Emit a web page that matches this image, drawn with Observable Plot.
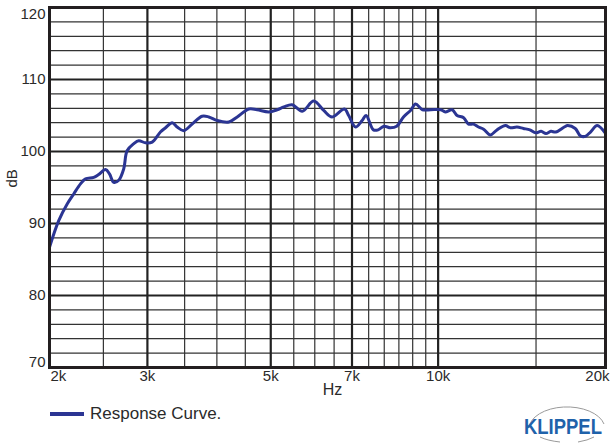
<!DOCTYPE html>
<html>
<head>
<meta charset="utf-8">
<script src="https://cdn.jsdelivr.net/npm/d3@7"></script>
<script src="https://cdn.jsdelivr.net/npm/@observablehq/plot@0.6"></script>
<style>
  html, body { margin: 0; padding: 0; background: #fff; }
  #wrap { position: relative; width: 610px; height: 443px; font-family: "Liberation Sans", Arial, sans-serif; }
  #legend { position: absolute; left: 50px; top: 404px; display: flex; align-items: center; font-size: 17px; color: #2a2a2a; }
  #logo { position: absolute; left: 0; top: 0; }
</style>
</head>
<body>
<div id="wrap">
  <div id="chart"></div>
  <div id="legend"><svg width="34" height="6" style="margin-right:6px"><line x1="0" x2="34" y1="3" y2="3" stroke="#2b3593" stroke-width="4"/></svg><span>Response Curve.</span></div>
  <svg id="logo" width="610" height="443">
    <path d="M 529 428 A 38 22 0 0 1 604 424" fill="none" stroke="#9a9a9a" stroke-width="1"/>
    <path d="M 540 437 A 38 14 0 0 0 560 442" fill="none" stroke="#9a9a9a" stroke-width="1"/>
    <path d="M 578 442 A 38 14 0 0 0 594 437" fill="none" stroke="#9a9a9a" stroke-width="1"/>
    <text transform="translate(524,434) scale(0.84,1)" x="0" y="0" font-family="'Liberation Sans', Arial, sans-serif" font-weight="bold" font-size="22" fill="#1f62aa">KLIPPEL</text>
  </svg>
</div>
<script>
// Response curve (frequency in Hz, level in dB)
const freq = [2000, 2078, 2152, 2211, 2274, 2322, 2402, 2452, 2523, 2564, 2610, 2664, 2720, 2758, 2836, 2894, 2976, 3060, 3166, 3234, 3324, 3394, 3488, 3610, 3762, 3868, 4006, 4204, 4352, 4566, 4724, 4960, 5134, 5280, 5462, 5696, 5974, 6226, 6446, 6784, 6904, 7100, 7300, 7420, 7650, 7800, 7990, 8206, 8424, 8664, 8920, 9108, 9372, 9702, 10108, 10300, 10600, 10818, 11114, 11342, 11578, 11820, 12070, 12410, 12760, 13216, 13490, 13860, 14234, 14622, 14980, 15322, 15630, 15952, 16280, 16860, 17096, 17646, 18016, 18392, 18796, 19324, 20000];
const level = [86.7, 90.4, 92.7, 94.1, 95.5, 96.2, 96.4, 96.8, 97.5, 96.9, 95.7, 96.0, 97.6, 100.1, 101.1, 101.5, 101.2, 101.3, 102.7, 103.3, 104.0, 103.4, 102.9, 103.8, 104.9, 104.8, 104.3, 104.1, 104.8, 105.9, 105.8, 105.5, 105.8, 106.2, 106.5, 105.6, 107.0, 105.7, 104.8, 105.9, 105.0, 103.4, 104.3, 105.0, 103.0, 103.0, 103.5, 103.3, 103.5, 104.8, 105.7, 106.6, 105.8, 105.8, 105.8, 105.5, 105.8, 105.0, 104.7, 103.8, 103.8, 103.4, 103.1, 102.3, 103.0, 103.6, 103.3, 103.4, 103.2, 103.0, 102.6, 102.8, 102.5, 102.8, 102.7, 103.4, 103.6, 103.2, 102.2, 102.1, 102.7, 103.6, 102.5];

// Grid and tick values
const xMajorGrid = [3000, 5000, 7000, 10000];
const xMinorGrid = [2500, 3500, 4000, 4500, 5500, 6000, 6500, 7500, 8000, 8500, 9000, 9500, 15000];
const yMajorGrid = [80, 90, 100, 110];
const yMinorGrid = [72, 74, 76, 78, 82, 84, 86, 88, 92, 94, 96, 98, 102, 104, 106, 108, 112, 114, 116, 118];
const xTicks = [2000, 3000, 5000, 7000, 10000, 20000];
const xTickLabels = ["2k", "3k", "5k", "7k", "10k", "20k"];
const yTicks = [70, 80, 90, 100, 110, 120];
const yTickLabels = ["70", "80", "90", "100", "110", "120"];
const xLabel = "Hz";
const yLabel = "dB";

const data = freq.map((f, i) => ({f, v: level[i]}));
const xt = xTicks.map((v, i) => ({v, t: xTickLabels[i]}));
const yt = yTicks.map((v, i) => ({v, t: yTickLabels[i]}));
const ink = "#2a2a2a";

const chart = Plot.plot({
  width: 610,
  height: 443,
  marginLeft: 49,
  marginRight: 5,
  marginTop: 7,
  marginBottom: 76,
  style: {fontFamily: "'Liberation Sans', Arial, sans-serif", fontSize: "15px", color: ink, background: "white"},
  x: {type: "log", domain: [2000, 20000], axis: null},
  y: {domain: [70, 120], axis: null},
  marks: [
    Plot.ruleX(xMinorGrid, {x: d => d, stroke: "#333", strokeWidth: 1.2}),
    Plot.ruleY(yMinorGrid, {y: d => d, stroke: "#333", strokeWidth: 1.2}),
    Plot.ruleX(xMajorGrid, {x: d => d, stroke: "#222", strokeWidth: 2.2}),
    Plot.ruleY(yMajorGrid, {y: d => d, stroke: "#222", strokeWidth: 2.2}),
    Plot.line(data, {x: "f", y: "v", stroke: "#2b3593", strokeWidth: 3, curve: "catmull-rom"}),
    Plot.frame({stroke: "#231f20", strokeWidth: 3}),
    // x tick labels
    Plot.text(xt.slice(0, 1), {x: "v", text: "t", frameAnchor: "bottom", dy: 13, dx: 1, textAnchor: "start", fill: ink}),
    Plot.text(xt.slice(1, -1), {x: "v", text: "t", frameAnchor: "bottom", dy: 13, fill: ink}),
    Plot.text(xt.slice(-1), {x: "v", text: "t", frameAnchor: "bottom", dy: 13, dx: 4, textAnchor: "end", fill: ink}),
    // y tick labels
    Plot.text(yt.slice(0, 1), {y: "v", text: "t", frameAnchor: "left", dx: -4, dy: -5, textAnchor: "end", fill: ink}),
    Plot.text(yt.slice(1, -1), {y: "v", text: "t", frameAnchor: "left", dx: -4, textAnchor: "end", fill: ink}),
    Plot.text(yt.slice(-1), {y: "v", text: "t", frameAnchor: "left", dx: -4, dy: 7, textAnchor: "end", fill: ink}),
    // axis labels
    Plot.text([xLabel], {text: d => d, frameAnchor: "bottom", dy: 27, dx: 5, fontSize: 16, fill: ink}),
    Plot.text([yLabel], {text: d => d, frameAnchor: "left", dx: -37, rotate: -90, fontSize: 15, fill: ink})
  ]
});
document.getElementById("chart").appendChild(chart);
</script>
</body>
</html>
